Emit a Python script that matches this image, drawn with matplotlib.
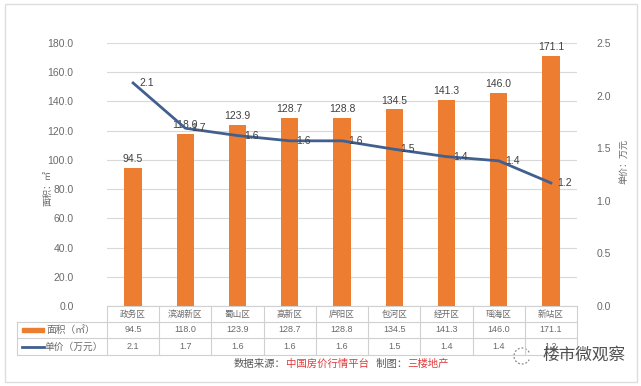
import matplotlib
matplotlib.use("Agg")
import matplotlib.pyplot as plt
from matplotlib.patches import Rectangle, Arc
from matplotlib.lines import Line2D

plt.rcParams['font.family'] = ['Noto Sans CJK SC', 'DejaVu Sans']

categories = ["政务区", "滨湖新区", "蜀山区", "高新区", "庐阳区", "包河区", "经开区", "瑶海区", "新站区"]
area = [94.5, 118.0, 123.9, 128.7, 128.8, 134.5, 141.3, 146.0, 171.1]
price = [2.12, 1.69, 1.62, 1.57, 1.57, 1.49, 1.42, 1.38, 1.17]
left_ticks = [0, 20, 40, 60, 80, 100, 120, 140, 160, 180]
right_ticks = [0.0, 0.5, 1.0, 1.5, 2.0, 2.5]
series_names = ["面积（㎡）", "单价（万元）"]

W, H = 641, 386
fig = plt.figure(figsize=(W / 100, H / 100), dpi=100)
fig.patch.set_facecolor('white')

# outer frame
fig.patches.append(Rectangle((5 / W, 4 / H), 632 / W, 378 / H, transform=fig.transFigure,
                             fill=False, edgecolor='#DDDDDD', lw=1.0))

x0, x1 = 107, 577
ytop, ybot = 43, 306
ax = fig.add_axes([x0 / W, 1 - ybot / H, (x1 - x0) / W, (ybot - ytop) / H])
ax2 = ax.twinx()

bar_c = '#ED7D31'
line_c = '#41608F'
grid_c = '#D9D9D9'
txt_c = '#6A6A6A'
num_font = 'Liberation Sans'

xs = list(range(len(categories)))
ax.bar(xs, area, width=0.33, color=bar_c, zorder=3)
ax.set_xlim(-0.5, len(categories) - 0.5)
ax.set_ylim(0, 180)
ax.set_yticks(left_ticks)
ax.set_yticklabels([f"{v:.1f}" for v in left_ticks], fontsize=7.5, color=txt_c, family=num_font)
ax.yaxis.grid(True, color=grid_c, lw=0.8, zorder=0)
ax.set_axisbelow(True)
ax.set_xticks([])
for s in ax.spines.values():
    s.set_visible(False)
ax.tick_params(axis='y', length=0, pad=24)
for xi, v in zip(xs, area):
    ax.text(xi, v + 2.5, f"{v:.1f}", ha='center', va='bottom', fontsize=7.5, color='#404040',
            family=num_font, zorder=5)
ax.set_ylabel("面积：㎡", fontsize=6.5, color=txt_c)
ax.yaxis.set_label_coords(-0.115, 0.45)

ax2.plot(xs, price, color=line_c, lw=2, zorder=4)
ax2.set_ylim(0, 2.5)
ax2.set_yticks(right_ticks)
ax2.set_yticklabels([f"{v:.1f}" for v in right_ticks], fontsize=7.5, color=txt_c, family=num_font)
ax2.tick_params(axis='y', length=0, pad=14)
for s in ax2.spines.values():
    s.set_visible(False)
for xi, v in zip(xs, price):
    ax2.text(xi + 0.12, v, f"{v:.1f}", ha='left', va='center', fontsize=7.5, color='#404040',
             family=num_font, zorder=6)
ax2.set_ylabel("单价：万元", fontsize=6.5, color=txt_c)
ax2.yaxis.set_label_coords(1.091, 0.55)

# data table
tcol = '#D0D0D0'
def fx(px):
    return px / W
def fy(py):
    return 1 - py / H

rows = [306, 322, 338, 355]
cw = (x1 - x0) / len(categories)
fig.add_artist(Line2D([fx(x0), fx(x1)], [fy(rows[0]), fy(rows[0])], color=tcol, lw=0.8))
for r in rows[1:]:
    fig.add_artist(Line2D([fx(17), fx(x1)], [fy(r), fy(r)], color=tcol, lw=0.8))
for i in range(len(categories) + 1):
    xp = x0 + i * cw
    fig.add_artist(Line2D([fx(xp), fx(xp)], [fy(rows[0]), fy(rows[3])], color=tcol, lw=0.8))
fig.add_artist(Line2D([fx(17), fx(17)], [fy(rows[1]), fy(rows[3])], color=tcol, lw=0.8))

for i, c in enumerate(categories):
    cx = x0 + (i + 0.5) * cw
    fig.text(fx(cx), fy((rows[0] + rows[1]) / 2), c, ha='center', va='center', fontsize=6.2, color=txt_c)
    fig.text(fx(cx), fy((rows[1] + rows[2]) / 2), f"{area[i]:.1f}", ha='center', va='center',
             fontsize=6.5, color=txt_c, family=num_font)
    fig.text(fx(cx), fy((rows[2] + rows[3]) / 2), f"{price[i]:.1f}", ha='center', va='center',
             fontsize=6.5, color=txt_c, family=num_font)

ym1 = (rows[1] + rows[2]) / 2
fig.patches.append(Rectangle((fx(22), fy(ym1 + 2)), 22 / W, 4 / H, transform=fig.transFigure,
                             color=bar_c))
fig.text(fx(46), fy(ym1), series_names[0], ha='left', va='center', fontsize=7, color=txt_c)
ym2 = (rows[2] + rows[3]) / 2
fig.add_artist(Line2D([fx(22), fx(44)], [fy(ym2), fy(ym2)], color=line_c, lw=2))
fig.text(fx(44), fy(ym2), series_names[1], ha='left', va='center', fontsize=7, color=txt_c)

# source line
parts = [("数据来源：", '#595959'), ("中国房价行情平台", '#E03C3C'), ("   制图：", '#595959'), ("三楼地产", '#E03C3C')]
xp = 234
r = fig.canvas.get_renderer()
for t, col in parts:
    tx = fig.text(fx(xp), fy(364), t, ha='left', va='center', fontsize=7.5, color=col)
    bb = tx.get_window_extent(renderer=r)
    xp += bb.width

# watermark
fig.text(fx(542), fy(355), "楼市微观察", ha='left', va='center', fontsize=12, color='#505050')
wm = Arc((fx(522), fy(356)), 16 / W, 16 / H, theta1=40, theta2=320, transform=fig.transFigure,
         color='#888888', lw=0.9, ls=(0, (1.5, 1.5)))
fig.patches.append(wm)

fig.savefig("out.png", dpi=100)
